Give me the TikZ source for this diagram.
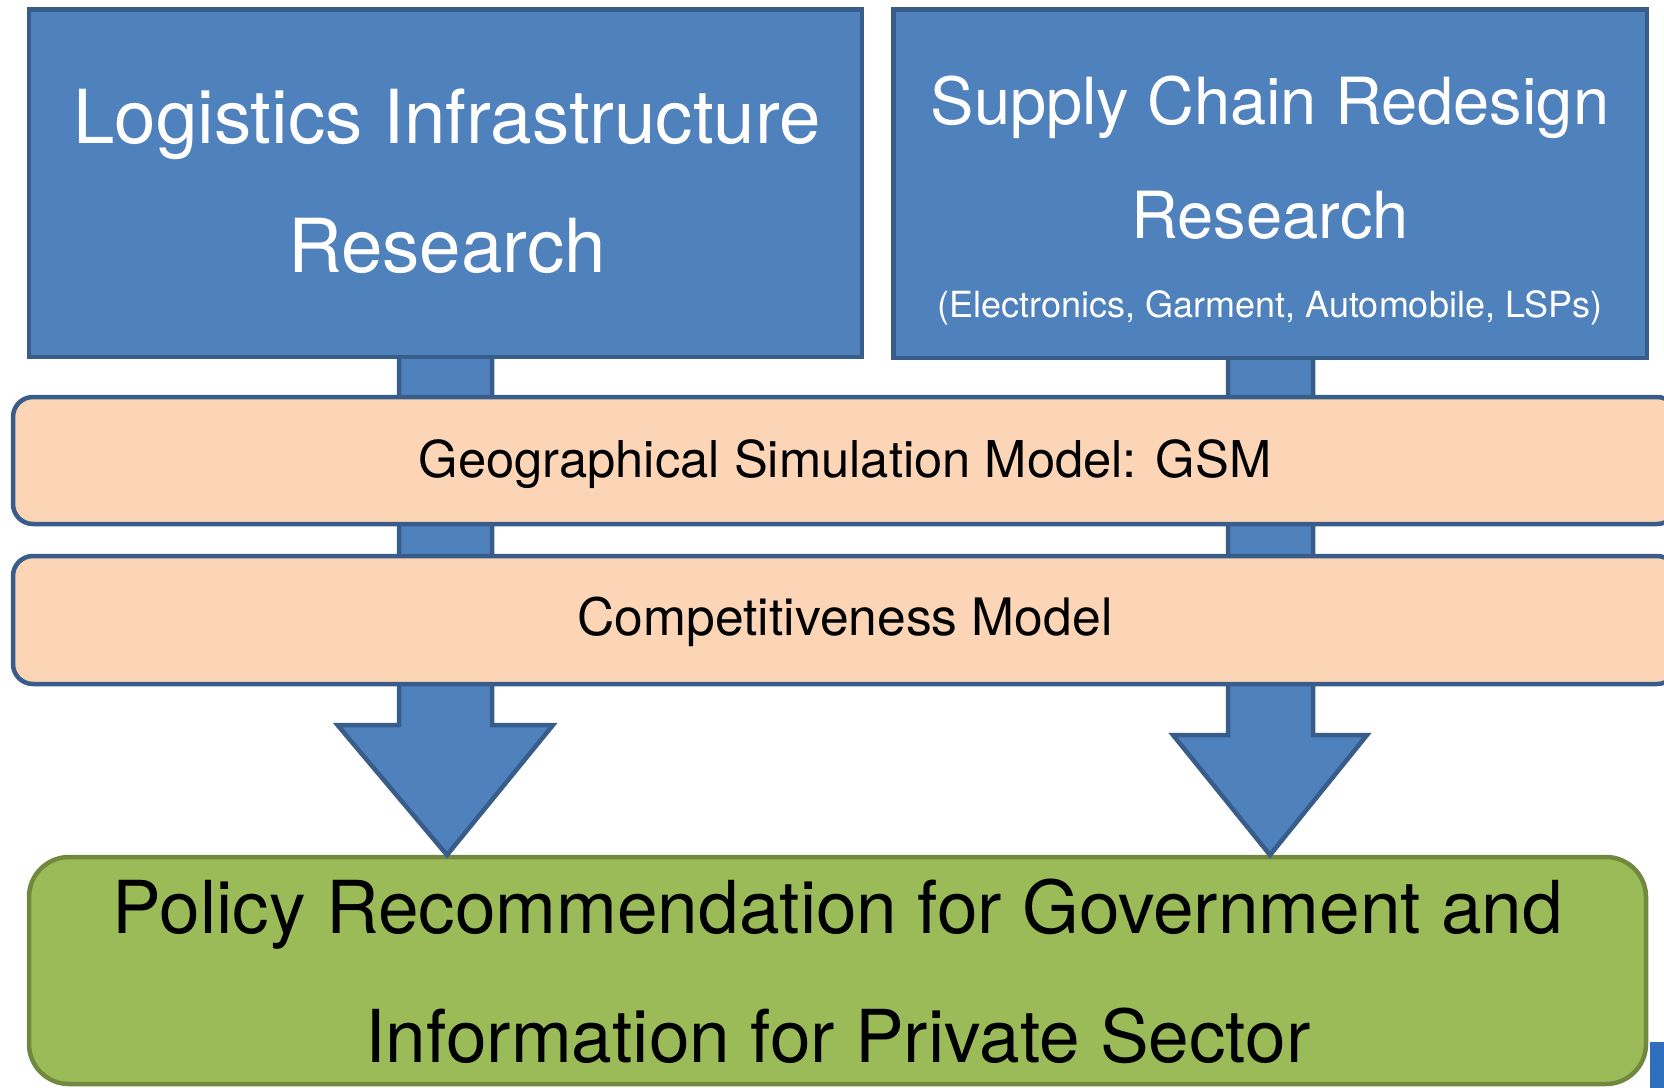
\documentclass[tikz,border=0pt]{standalone}
\usepackage{fontspec}
\setmainfont{TeX Gyre Heros}
\usetikzlibrary{calc}
\definecolor{bfill}{HTML}{4F81BD}
\definecolor{bline}{HTML}{385D8A}
\definecolor{ofill}{HTML}{FBD5B5}
\definecolor{gfill}{HTML}{9BBB59}
\definecolor{gline}{HTML}{71893F}
\definecolor{bitblue}{HTML}{2F6FBF}
\begin{document}
\begin{tikzpicture}[x=1pt,y=-1pt,
  topbox/.style={draw=bline, line width=4.5pt, fill=bfill, inner sep=0pt, outer sep=0pt, anchor=north west},
  modelbox/.style={draw=bline, line width=4.5pt, fill=ofill, rounded corners=20pt, inner sep=0pt, outer sep=0pt, anchor=north west},
  policybox/.style={draw=gline, line width=4.5pt, fill=gfill, rounded corners=40pt, inner sep=0pt, outer sep=0pt, anchor=north west},
  blockarrow/.style={draw=bline, line width=4.5pt, fill=bfill, line join=miter},
  wtxt/.style={text=white, inner sep=0pt, anchor=base},
  ktxt/.style={text=black, inner sep=0pt, anchor=base}]
\useasboundingbox (0,0) rectangle (1664,1087);
\clip (0,0) rectangle (1664,1087);

\path (29,9.5) coordinate (ltl) (893.5,9.5) coordinate (rtl);

% policy box and block arrows (behind the other boxes)
\node[policybox, minimum width=1617pt, minimum height=227pt] (policy) at (29,857) {};
\draw[blockarrow] (399,300) -- (399,725) -- (337.5,725) -- ([yshift=2pt]447,0 |- policy.north) -- (553,725) -- (492,725) -- (492,300) -- cycle;
\draw[blockarrow] (1228,300) -- (1228,735) -- (1173,735) -- ([yshift=2pt]1270,0 |- policy.north) -- (1367,735) -- (1313,735) -- (1313,300) -- cycle;

\node[topbox, minimum width=833pt, minimum height=347.5pt] (lbox) at (ltl) {};
\node[topbox, minimum width=753.5pt, minimum height=348.5pt] (rbox) at (rtl) {};
\node[modelbox, minimum width=1664pt, minimum height=127pt] (gsm) at (13,397) {};
\node[modelbox, minimum width=1664pt, minimum height=128pt] (comp) at (13,556) {};

% texts
\node[wtxt, font=\fontsize{74.5}{74.5}\selectfont] (l1) at (447,143) {Logistics Infrastructure};
\node[wtxt, font=\fontsize{74.5}{74.5}\selectfont] (l2) at (447,272) {Research};
\node[wtxt, font=\fontsize{65}{65}\selectfont] (r1) at (1270,124) {Supply Chain Redesign};
\node[wtxt, font=\fontsize{65}{65}\selectfont] (r2) at (1270,238) {Research};
\node[wtxt, font=\fontsize{36}{36}\selectfont] (r3) at (1270,317) {(Electronics, Garment, Automobile, LSPs)};
\node[ktxt, font=\fontsize{50.7}{50.7}\selectfont] (gsmt) at (845,477) {Geographical Simulation Model: GSM};
\node[ktxt, font=\fontsize{51.6}{51.6}\selectfont] (compt) at (845,635) {Competitiveness Model};
\node[ktxt, font=\fontsize{73}{73}\selectfont] (p1) at (838,933) {Policy Recommendation for Government and};
\node[ktxt, font=\fontsize{73}{73}\selectfont] (p2) at (838,1062) {Information for Private Sector};

% fragment at bottom right
\fill[bitblue] (1650,1042) rectangle (1670,1090);
\end{tikzpicture}
\end{document}
